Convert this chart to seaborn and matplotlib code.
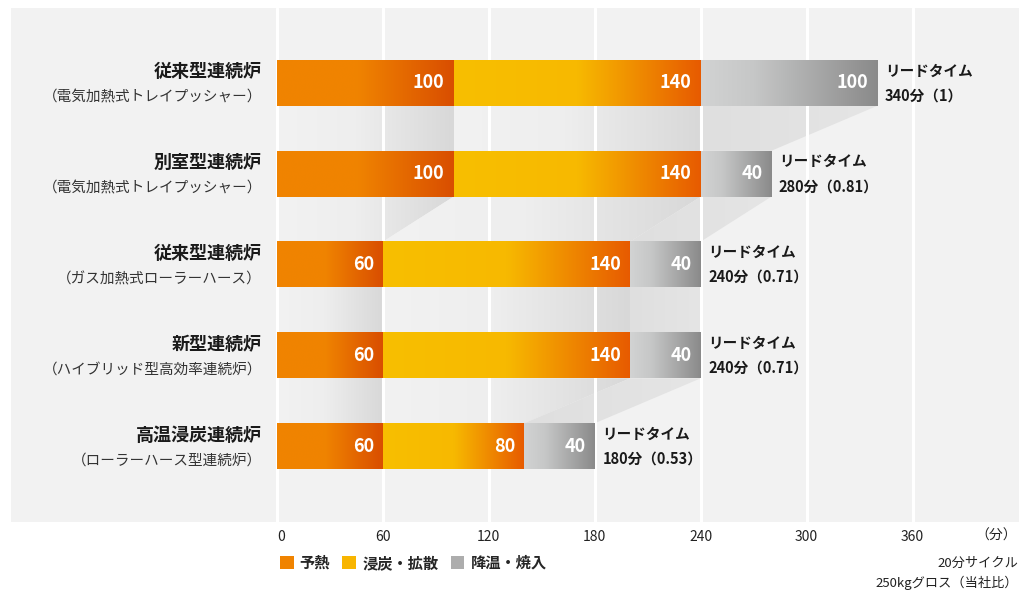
import numpy as np
import pandas as pd
import seaborn as sns
from matplotlib import pyplot as plt
from matplotlib.colors import LinearSegmentedColormap
from matplotlib.patches import Polygon, Patch

# chart data
furnaces = ["従来型連続炉", "別室型連続炉", "従来型連続炉", "新型連続炉", "高温浸炭連続炉"]
furnace_types = [
    "（電気加熱式トレイプッシャー）",
    "（電気加熱式トレイプッシャー）",
    "（ガス加熱式ローラーハース）",
    "（ハイブリッド型高効率連続炉）",
    "（ローラーハース型連続炉）",
]
stages = ["予熱", "浸炭・拡散", "降温・焼入"]
preheat = [100, 100, 60, 60, 60]
carburize = [140, 140, 140, 140, 80]
quench = [100, 40, 40, 40, 40]
lead_time = [340, 280, 240, 240, 180]
ratio = ["1", "0.81", "0.71", "0.71", "0.53"]
ticks = [0, 60, 120, 180, 240, 300, 360]

BG = "#f2f2f2"
LEGEND_COLORS = ["#f08300", "#f8b500", "#adadad"]
BAR_CMAPS = [
    LinearSegmentedColormap.from_list(
        "pre", [(0, "#f08300"), (0.45, "#f08400"), (1, "#d94e00")]),
    LinearSegmentedColormap.from_list(
        "carb", [(0, "#f8bf00"), (0.5, "#f7b900"), (1, "#e75a00")]),
    LinearSegmentedColormap.from_list(
        "quench", [(0, "#d2d3d3"), (0.3, "#c6c7c7"), (1, "#8a8a8a")]),
]
SHADE_CMAPS = [
    LinearSegmentedColormap.from_list(
        "s0", [(0, BG), (0.45, "#eeeeee"), (1, "#d8d8d8")]),
    LinearSegmentedColormap.from_list(
        "s1", [(0, BG), (0.45, "#eeeeee"), (1, "#d8d8d8")]),
    LinearSegmentedColormap.from_list(
        "s2", [(0, "#dfdfdf"), (1, "#e5e5e5")]),
]
GRAD = np.linspace(0, 1, 256).reshape(1, -1)

sns.set_theme(style="white")
plt.rcParams["font.family"] = ["Noto Sans CJK JP", "DejaVu Sans"]

df = pd.DataFrame({
    "name": [f"{a}\n{b}" for a, b in zip(furnaces, furnace_types)],
    "pre": preheat,
    "carb": carburize,
    "quench": quench,
})
segs = df[["pre", "carb", "quench"]].to_numpy()
cum = segs.cumsum(axis=1)
starts = cum - segs
for k in range(3):
    df[f"cum{k}"] = cum[:, k]

fig = plt.figure(figsize=(10.32, 5.92), dpi=100)
ax = fig.add_axes([11 / 1032, 70 / 592, 1008 / 1032, 514 / 592])
ax.set_facecolor(BG)

# stacked bars: draw cumulative totals, outermost first
bar_patches = {}
for k in reversed(range(3)):
    n0 = len(ax.patches)
    sns.barplot(data=df, x=f"cum{k}", y="name", orient="h", width=0.505,
                color=LEGEND_COLORS[k], errorbar=None, ax=ax, zorder=2)
    bar_patches[k] = ax.patches[n0:]

# replace flat fills with gradients
for k in range(3):
    for i, p in enumerate(bar_patches[k]):
        y0, h = p.get_y(), p.get_height()
        p.set_facecolor("none")
        p.set_edgecolor("none")
        ax.imshow(GRAD, cmap=BAR_CMAPS[k], aspect="auto", interpolation="bicubic",
                  extent=[starts[i, k], cum[i, k], y0 + h, y0], zorder=2.1)
        ax.annotate(str(segs[i, k]), xy=(cum[i, k], y0 + h / 2), xytext=(-6.5, 0),
                    textcoords="offset points", ha="right", va="center",
                    color="white", fontsize=13, fontweight="bold", zorder=3)

# shaded connectors between neighbouring bars
n_rows = len(df)
for i in range(n_rows - 1):
    pu = bar_patches[0][i]
    pl = bar_patches[0][i + 1]
    yb = pu.get_y() + pu.get_height()
    yt = pl.get_y()
    for k in range(3):
        pts = [(starts[i, k], yb), (cum[i, k], yb),
               (cum[i + 1, k], yt), (starts[i + 1, k], yt)]
        poly = Polygon(pts, closed=True, facecolor="none", edgecolor="none")
        ax.add_patch(poly)
        x0 = min(starts[i, k], starts[i + 1, k])
        x1 = max(cum[i, k], cum[i + 1, k])
        im = ax.imshow(GRAD, cmap=SHADE_CMAPS[k], aspect="auto",
                       interpolation="bicubic", extent=[x0, x1, yt, yb], zorder=0.3)
        im.set_clip_path(poly)

# labels left of bars and lead time right of bars
for i, p in enumerate(bar_patches[0]):
    yc = p.get_y() + p.get_height() / 2
    ax.annotate(furnaces[i], xy=(0, yc), xytext=(-10.8, 8), textcoords="offset points",
                ha="right", va="center", fontsize=13, fontweight="bold",
                color="#1a1a1a", annotation_clip=False)
    ax.annotate(furnace_types[i], xy=(0, yc), xytext=(-10.8, -10.5),
                textcoords="offset points", ha="right", va="center",
                fontsize=10.5, color="#333333", annotation_clip=False)
    ax.annotate("リードタイム", xy=(lead_time[i], yc), xytext=(5.5, 9),
                textcoords="offset points", ha="left", va="center",
                fontsize=10.5, fontweight="bold", color="#1a1a1a")
    ax.annotate(f"{lead_time[i]}分（{ratio[i]}）", xy=(lead_time[i], yc),
                xytext=(5.5, -9), textcoords="offset points", ha="left",
                va="center", fontsize=10.5, fontweight="bold", color="#1a1a1a")

ax.set_xlim(-150.7, 420.3)
ax.set_ylim(4.835, -0.825)
ax.set_xticks(ticks)
ax.set_xticklabels([str(t) for t in ticks])
ax.get_xticklabels()[0].set_ha("left")
ax.tick_params(axis="x", length=0, pad=6, labelsize=10, colors="#222222")
ax.set_yticks([])
ax.set_xlabel("")
ax.set_ylabel("")
ax.grid(axis="x", color="white", linewidth=2.2)
ax.set_axisbelow(True)
for s in ax.spines.values():
    s.set_visible(False)

fig.text(1017 / 1032, 1 - 536 / 592, "（分）", ha="right", va="center",
         fontsize=10, color="#222222")

handles = [Patch(facecolor=c, edgecolor="none") for c in LEGEND_COLORS]
fig.legend(handles, stages, loc="center left", bbox_to_anchor=(266 / 1032, 1 - 563 / 592),
           ncol=3, frameon=False, handlelength=0.9, handleheight=0.9,
           handletextpad=0.4, columnspacing=0.8,
           prop={"weight": "bold", "size": 11, "family": ["Noto Sans CJK JP", "DejaVu Sans"]})

fig.text(1018 / 1032, 1 - 563 / 592, "20分サイクル", ha="right", va="center",
         fontsize=9.5, color="#222222")
fig.text(1018 / 1032, 1 - 583 / 592, "250kgグロス（当社比）", ha="right", va="center",
         fontsize=9.5, color="#222222")

fig.savefig("out.png", dpi=100)
